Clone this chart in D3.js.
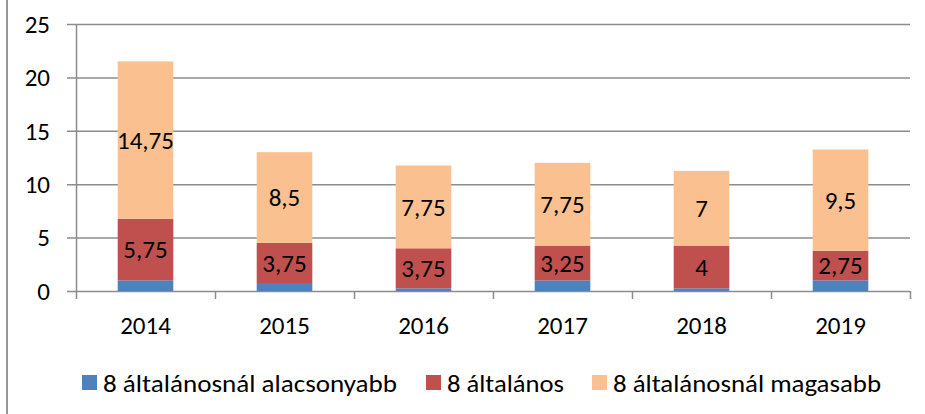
<!DOCTYPE html>
<html>
<head>
  <meta charset="utf-8">
  <script src="https://d3js.org/d3.v7.min.js"></script>
  <style>
    body { margin: 0; background: #fff; }
    text { font-family: Carlito, Lato, "Open Sans", sans-serif; fill: #000; }
  </style>
</head>
<body>
<script>
// chart data
var years = ['2014', '2015', '2016', '2017', '2018', '2019'];
var lower = [1, 0.75, 0.25, 1, 0.25, 1];
var primary = [5.75, 3.75, 3.75, 3.25, 4, 2.75];
var higher = [14.75, 8.5, 7.75, 7.75, 7, 9.5];
var seriesNames = ['8 általánosnál alacsonyabb', '8 általános', '8 általánosnál magasabb'];
var colors = ['#4F81BD', '#C0504D', '#FAC090'];
var yTicks = [0, 5, 10, 15, 20, 25];

var width = 925, height = 414;

var svg = d3.select('body').append('svg')
  .attr('width', width)
  .attr('height', height);

// outer frame line on the left
svg.append('line')
  .attr('x1', 7).attr('x2', 7)
  .attr('y1', 0).attr('y2', height)
  .attr('stroke', '#989898').attr('stroke-width', 2);

var x = d3.scaleBand().domain(years).range([76, 910]).paddingInner(0.6).paddingOuter(0.3);
var xb = d3.scaleBand().domain(years).range([76, 910]);
var y = d3.scaleLinear().domain([0, 25]).range([291, 24]);

// grid lines
svg.append('g').selectAll('line')
  .data(yTicks)
  .enter().append('line')
  .attr('x1', 67).attr('x2', 910)
  .attr('y1', function(d) { return y(d) + 0.5; })
  .attr('y2', function(d) { return y(d) + 0.5; })
  .attr('stroke', '#8c8c8c').attr('stroke-width', 1.5);

// y axis line
svg.append('line')
  .attr('x1', 76.5).attr('x2', 76.5)
  .attr('y1', y(25)).attr('y2', 299)
  .attr('stroke', '#8c8c8c').attr('stroke-width', 1.5);

// y labels
svg.append('g').selectAll('text')
  .data(yTicks)
  .enter().append('text')
  .attr('x', 50)
  .attr('y', function(d) { return y(d); })
  .attr('dy', '0.35em')
  .attr('text-anchor', 'end')
  .attr('font-size', 25)
  .text(function(d) { return d; });

// category tick marks
svg.append('g').selectAll('line')
  .data(years)
  .enter().append('line')
  .attr('x1', function(d) { return xb(d) + xb.bandwidth() + 0.5; })
  .attr('x2', function(d) { return xb(d) + xb.bandwidth() + 0.5; })
  .attr('y1', y(0)).attr('y2', 299)
  .attr('stroke', '#8c8c8c').attr('stroke-width', 1.5);

// stacked data
var rows = years.map(function(yr, i) {
  return { year: yr, s0: lower[i], s1: primary[i], s2: higher[i] };
});
var stack = d3.stack().keys(['s0', 's1', 's2'])(rows);

var layers = svg.append('g').selectAll('g')
  .data(stack)
  .enter().append('g')
  .attr('fill', function(d, i) { return colors[i]; });

layers.selectAll('rect')
  .data(function(d) { return d; })
  .enter().append('rect')
  .attr('x', function(d) { return x(d.data.year); })
  .attr('width', x.bandwidth())
  .attr('y', function(d) { return y(d[1]); })
  .attr('height', function(d) { return y(d[0]) - y(d[1]); });

// data labels for series 2 and 3
stack.slice(1).forEach(function(layer) {
  svg.append('g').selectAll('text')
    .data(layer)
    .enter().append('text')
    .attr('x', function(d) { return x(d.data.year) + x.bandwidth() / 2; })
    .attr('y', function(d) { return (y(d[0]) + y(d[1])) / 2; })
    .attr('dy', '0.35em')
    .attr('text-anchor', 'middle')
    .attr('font-size', 25)
    .text(function(d) { return String(d[1] - d[0]).replace('.', ','); });
});

// x labels
svg.append('g').selectAll('text')
  .data(years)
  .enter().append('text')
  .attr('x', function(d) { return xb(d) + xb.bandwidth() / 2; })
  .attr('y', 325)
  .attr('dy', '0.35em')
  .attr('text-anchor', 'middle')
  .attr('font-size', 25)
  .text(function(d) { return d; });

// legend
var legendX = [82, 426, 592];
var legendW = [294, 117, 268];
var legend = svg.append('g').selectAll('g')
  .data(seriesNames)
  .enter().append('g')
  .attr('transform', function(d, i) { return 'translate(' + legendX[i] + ',375)'; });

legend.append('rect')
  .attr('width', 15).attr('height', 15)
  .attr('fill', function(d, i) { return colors[i]; });

legend.append('text')
  .attr('x', 21).attr('y', 8)
  .attr('dy', '0.35em')
  .attr('font-size', 25)
  .attr('textLength', function(d, i) { return legendW[i]; })
  .attr('lengthAdjust', 'spacingAndGlyphs')
  .text(function(d) { return d; });
</script>
</body>
</html>
